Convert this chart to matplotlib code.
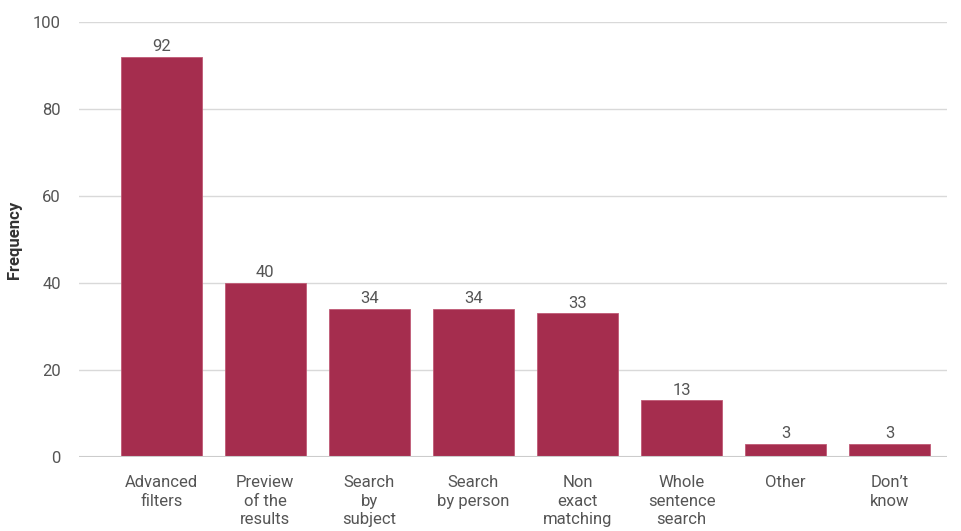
import matplotlib
matplotlib.use("Agg")
import matplotlib.pyplot as plt

categories = ["Advanced\nfilters", "Preview\nof the\nresults", "Search\nby\nsubject", "Search\nby person",
              "Non\nexact\nmatching", "Whole\nsentence\nsearch", "Other", "Don\u2019t\nknow"]
values = [92, 40, 34, 34, 33, 13, 3, 3]

plt.rcParams["font.family"] = ["Roboto", "DejaVu Sans"]
TXT = "#555555"
BAR = "#A52D4E"

fig = plt.figure(figsize=(9.61, 5.31), dpi=100)
ax = fig.add_axes([0.0822, 0.1394, 0.9032, 0.8192])

x = range(len(values))
bars = ax.bar(x, values, width=0.78, color=BAR, edgecolor="#c05a75", linewidth=0.6, zorder=3)
for b, v in zip(bars, values):
    ax.text(b.get_x() + b.get_width() / 2, v + 0.6, str(v), ha="center", va="bottom",
            fontsize=12, color=TXT)

ax.set_xlim(-0.79, 7.55)
ax.set_ylim(0, 100)
ax.set_yticks([0, 20, 40, 60, 80, 100])
ax.set_xticks(list(x))
ax.set_xticklabels(categories, fontsize=12, color=TXT, linespacing=1.3, va="top")
ax.tick_params(axis="both", length=0, labelsize=12, colors=TXT)
ax.tick_params(axis="x", pad=13)
ax.tick_params(axis="y", pad=13)
ax.grid(axis="y", color="#d9d9d9", linewidth=1, zorder=0)
for s in ax.spines.values():
    s.set_visible(False)
ax.axhline(0, color="#cccccc", linewidth=1.5, zorder=4)
ax.set_ylabel("Frequency", fontsize=12, fontweight="bold", color="#333333")
ax.yaxis.set_label_coords(-0.066, 0.5)

fig.savefig("out.png", dpi=100)
